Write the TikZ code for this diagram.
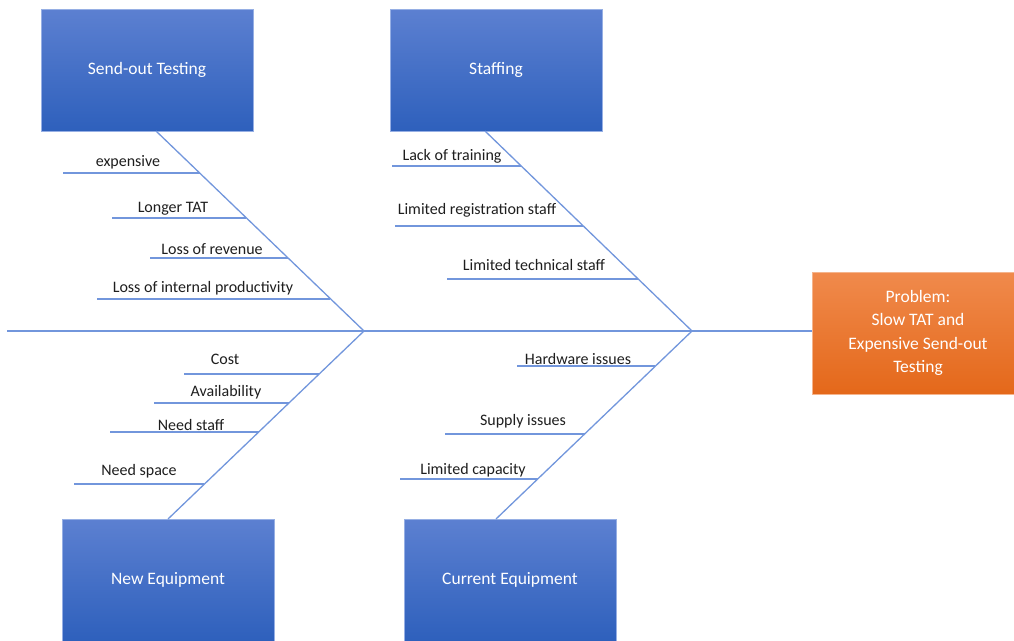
\documentclass[tikz,border=0pt]{standalone}
\usepackage{fontspec}
\setmainfont{Carlito}
\usetikzlibrary{calc}
\definecolor{boneblue}{RGB}{114,150,220}
\definecolor{boxtop}{RGB}{92,128,209}
\definecolor{boxbot}{RGB}{46,96,188}
\definecolor{boxedge}{RGB}{150,175,228}
\definecolor{ortop}{RGB}{240,138,76}
\definecolor{orbot}{RGB}{228,104,26}
\definecolor{oredge}{RGB}{245,180,140}
\definecolor{txt}{RGB}{30,30,30}
\tikzset{
  bone/.style={draw=boneblue, line width=1.3pt},
  catbox/.style={rectangle, minimum width=212pt, minimum height=122pt, inner sep=0pt,
    top color=boxtop, bottom color=boxbot, draw=boxedge, line width=0.6pt,
    text=white, font=\fontsize{17.5}{21}\selectfont},
  probbox/.style={rectangle, minimum width=212pt, minimum height=122pt, inner sep=0pt,
    top color=ortop, bottom color=orbot, draw=oredge, line width=0.6pt,
    text=white, font=\fontsize{17.5}{23.5}\selectfont, align=center},
  lbl/.style={inner sep=0pt, text=txt, font=\fontsize{16}{19}\selectfont}
}
\begin{document}
\begin{tikzpicture}[x=1pt,y=-1pt]
\useasboundingbox (0,0) rectangle (1014,640);
\clip (0,0) rectangle (1014,640);
% category boxes
\node[catbox] (send) at (147,70) {Send-out Testing};
\node[catbox] (staff) at (496,70) {Staffing};
\node[catbox] (neweq) at (168,580) {New Equipment};
\node[catbox] (cureq) at (510,580) {Current Equipment};
\node[probbox] (prob) at (918,333) {Problem:\\Slow TAT and\\Expensive Send-out\\Testing};
% spine
\coordinate (tail) at (7,331);
\coordinate (jL) at (364,331);
\coordinate (jR) at (692,331);
\draw[bone] (tail) -- (jL) -- (jR) -- (prob.west |- jR);
% main bones
\coordinate (sendB) at (156,131);
\coordinate (staffB) at (485,131);
\coordinate (neweqB) at (168,519);
\coordinate (cureqB) at (496,519);
\draw[bone] (sendB) -- (jL);
\draw[bone] (staffB) -- (jR);
\draw[bone] (neweqB) -- (jL);
\draw[bone] (cureqB) -- (jR);
% Send-out sub-bones
\coordinate (s1a) at (63,173);  \coordinate (s1b) at (200,173);
\coordinate (s2a) at (112,218); \coordinate (s2b) at (246,218);
\coordinate (s3a) at (150,258); \coordinate (s3b) at (288,258);
\coordinate (s4a) at (97,299);  \coordinate (s4b) at (330,299);
\draw[bone] (s1a) -- (s1b);
\draw[bone] (s2a) -- (s2b);
\draw[bone] (s3a) -- (s3b);
\draw[bone] (s4a) -- (s4b);
\node[lbl] (t1) at (128,162) {expensive};
\node[lbl] (t2) at (173,209) {Longer TAT};
\node[lbl] (t3) at (212,249) {Loss of revenue};
\node[lbl] (t4) at (203,288) {Loss of internal productivity};
% Staffing sub-bones
\coordinate (f1a) at (392,166); \coordinate (f1b) at (521,166);
\coordinate (f2a) at (395,226); \coordinate (f2b) at (583,226);
\coordinate (f3a) at (447,279); \coordinate (f3b) at (638,279);
\draw[bone] (f1a) -- (f1b);
\draw[bone] (f2a) -- (f2b);
\draw[bone] (f3a) -- (f3b);
\node[lbl] (u1) at (452,156) {Lack of training};
\node[lbl] (u2) at (477,210) {Limited registration staff};
\node[lbl] (u3) at (534,265) {Limited technical staff};
% New equipment sub-bones
\coordinate (n1a) at (184,374); \coordinate (n1b) at (319,374);
\coordinate (n2a) at (154,403); \coordinate (n2b) at (289,403);
\coordinate (n3a) at (110,432); \coordinate (n3b) at (259,432);
\coordinate (n4a) at (74,484);  \coordinate (n4b) at (204,484);
\draw[bone] (n1a) -- (n1b);
\draw[bone] (n2a) -- (n2b);
\draw[bone] (n3a) -- (n3b);
\draw[bone] (n4a) -- (n4b);
\node[lbl] (v1) at (225,359) {Cost};
\node[lbl] (v2) at (226,392) {Availability};
\node[lbl] (v3) at (191,425) {Need staff};
\node[lbl] (v4) at (139,471) {Need space};
% Current equipment sub-bones
\coordinate (c1a) at (517,366); \coordinate (c1b) at (655,366);
\coordinate (c2a) at (445,434); \coordinate (c2b) at (585,434);
\coordinate (c3a) at (400,479); \coordinate (c3b) at (538,479);
\draw[bone] (c1a) -- (c1b);
\draw[bone] (c2a) -- (c2b);
\draw[bone] (c3a) -- (c3b);
\node[lbl] (w1) at (578,359) {Hardware issues};
\node[lbl] (w2) at (523,421) {Supply issues};
\node[lbl] (w3) at (473,470) {Limited capacity};
\end{tikzpicture}
\end{document}
